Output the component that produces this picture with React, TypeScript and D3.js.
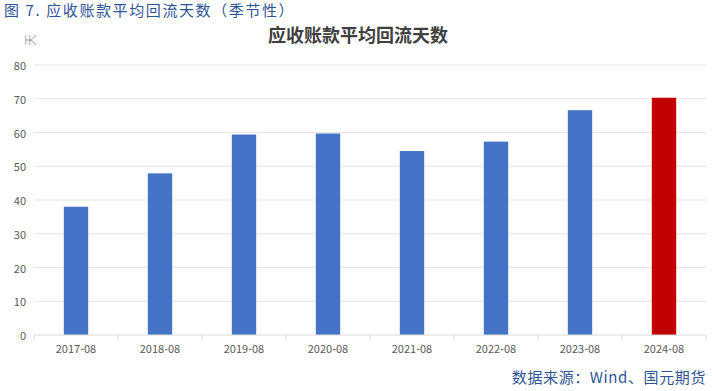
import * as d3 from 'd3';

const categories = ['2017-08', '2018-08', '2019-08', '2020-08', '2021-08', '2022-08', '2023-08', '2024-08'];
const values = [38.0, 47.9, 59.4, 59.7, 54.5, 57.3, 66.6, 70.3];
const yTicks = [0, 10, 20, 30, 40, 50, 60, 70, 80];

const WIDTH = 712;
const HEIGHT = 391;
const MARGIN = { top: 65, right: 6, bottom: 56, left: 34 };
const FONT = '"Microsoft YaHei", "Noto Sans CJK SC", sans-serif';

export default function App() {
    const boundsWidth = WIDTH - MARGIN.left - MARGIN.right;
    const boundsHeight = HEIGHT - MARGIN.top - MARGIN.bottom;

    const xScale = d3.scaleBand().domain(categories).range([0, boundsWidth]).paddingInner(0.71).paddingOuter(0.355);
    const band = d3.scaleBand().domain(categories).range([0, boundsWidth]);
    const yScale = d3.scaleLinear().domain([0, 80]).range([boundsHeight, 0]);

    return (
        <svg width={WIDTH} height={HEIGHT} style={{ position: 'absolute', left: 0, top: 0, background: '#fff' }}>
            <text x={4} y={16} fontSize={15} fill="#2f5597" fontFamily={FONT} letterSpacing={1.6}>
                图 7.  应收账款平均回流天数（季节性）
            </text>
            <text x={358} y={42} textAnchor="middle" fontSize={18} fontWeight="bold" fill="#404040" fontFamily={FONT}>
                应收账款平均回流天数
            </text>
            <text transform="translate(29,40) rotate(-90)" textAnchor="middle" dominantBaseline="central" fontSize={12} fill="#a6a6a6" fontFamily={FONT}>
                天
            </text>
            <g transform={`translate(${MARGIN.left},${MARGIN.top})`}>
                {yTicks.map((t) => (
                    <g key={t}>
                        {t > 0 && (
                            <line x1={0} x2={boundsWidth} y1={yScale(t)} y2={yScale(t)} stroke="#e3e3e3" strokeWidth={1} />
                        )}
                        <text x={-8} y={yScale(t)} textAnchor="end" dominantBaseline="central" fontSize={11} fill="#595959" fontFamily={FONT}>
                            {t}
                        </text>
                    </g>
                ))}
                {categories.map((c, i) => (
                    <rect
                        key={c}
                        x={xScale(c)}
                        y={yScale(values[i])}
                        width={xScale.bandwidth()}
                        height={boundsHeight - yScale(values[i])}
                        fill={i === categories.length - 1 ? '#c00000' : '#4472c4'}
                    />
                ))}
                <line x1={0} x2={boundsWidth} y1={boundsHeight} y2={boundsHeight} stroke="#d9d9d9" />
                {[...categories.map((c) => band(c) as number), boundsWidth].map((x, i) => (
                    <line key={i} x1={x} x2={x} y1={boundsHeight} y2={boundsHeight + 5} stroke="#d9d9d9" />
                ))}
                {categories.map((c) => (
                    <text
                        key={c}
                        x={(band(c) as number) + band.bandwidth() / 2}
                        y={boundsHeight + 18}
                        textAnchor="middle"
                        fontSize={11}
                        fill="#595959"
                        fontFamily={FONT}
                    >
                        {c}
                    </text>
                ))}
            </g>
            <text x={706} y={383} textAnchor="end" fontSize={15} fill="#2f5597" fontFamily={FONT} letterSpacing={0.6}>
                数据来源：Wind、国元期货
            </text>
        </svg>
    );
}
